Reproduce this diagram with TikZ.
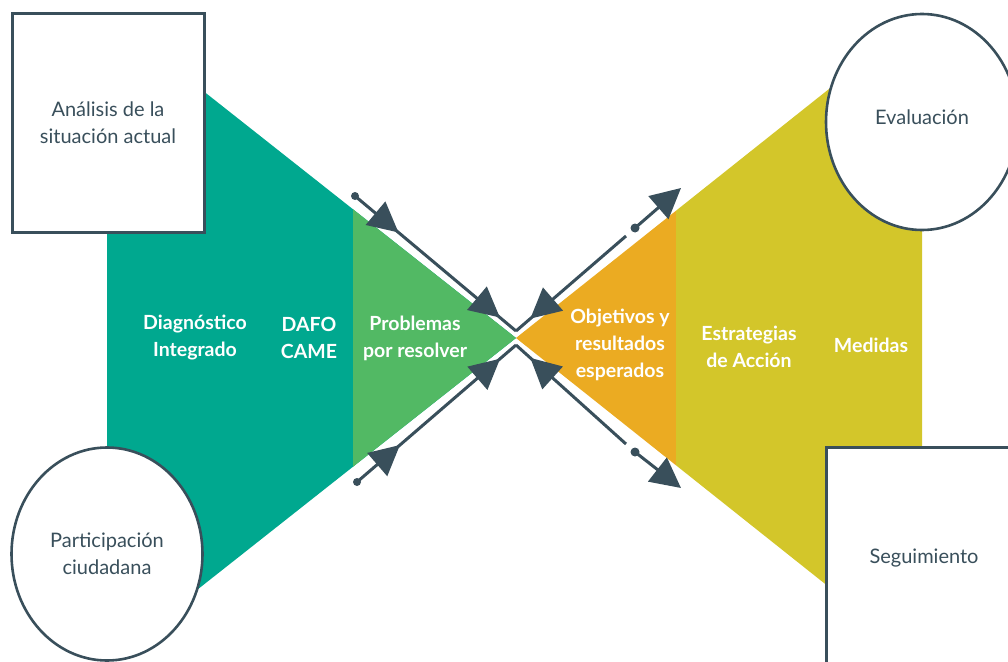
\documentclass[tikz,border=0pt]{standalone}
\usepackage{fontspec}
\setmainfont{Lato}
\usetikzlibrary{arrows.meta,decorations.markings,shapes.geometric,calc}

\definecolor{slate}{HTML}{394F5B}
\definecolor{diagteal}{HTML}{00A88F}
\definecolor{probgreen}{HTML}{52B964}
\definecolor{objorange}{HTML}{EBAB22}
\definecolor{stratyellow}{HTML}{D3C62A}

\tikzset{
  framebox/.style={draw=slate, line width=3pt, fill=white, rectangle,
    align=center, text=slate, font=\fontsize{20}{27}\selectfont, inner sep=0pt},
  ringnode/.style={draw=slate, line width=2.6pt, fill=white, ellipse,
    align=center, text=slate, font=\fontsize{20}{27}\selectfont, inner sep=0pt},
  phase/.style={align=center, text=white, font=\bfseries\fontsize{19.5}{27}\selectfont},
  halo/.style={draw=white, line width=9pt},
  flow/.style={draw=slate, line width=3pt},
}
\def\headtip{Triangle[length=30pt,width=30pt]}

\begin{document}
\begin{tikzpicture}[x=1pt,y=-1pt]
\useasboundingbox (0,0) rectangle (1008,661);
\clip (0,0) rectangle (1008,661);

% --- funnel shapes ---
\coordinate (lt) at (107,15);
\coordinate (lb) at (107,661);
\coordinate (mid) at (516,338);
\coordinate (rt) at (922,15);
\coordinate (rb) at (922,661);
\fill[diagteal] (lt) -- (mid) -- (lb) -- cycle;
\fill[probgreen] (353,209.3) -- (mid) -- (353,466.7) -- cycle;
\fill[objorange] (mid) -- (676,210.7) -- (676,465.3) -- cycle;
\fill[stratyellow] (676,210.7) -- (rt) -- (rb) -- (676,465.3) -- cycle;

% --- phase labels ---
\node[phase] (diag) at (195,338) {Diagnóstico\\Integrado};
\node[phase] (dafo) at (309,338) {DAFO\\CAME};
\node[phase] (prob) at (415,338) {Problemas\\por resolver};
\node[phase] (obj) at (620,345) {Objetivos y\\resultados\\esperados};
\node[phase] (estr) at (749,347) {Estrategias\\de Acción};
\node[phase] (med) at (871,345) {Medidas};

% --- flow connectors around the centre ---
\coordinate (apexT) at (516,331);
\coordinate (apexB) at (516,345);
\coordinate (tlS) at (355,196);
\coordinate (blS) at (357,482);
\coordinate (trG) at (626,236);
\coordinate (trD) at (635,228);
\coordinate (trE) at (681,188);
\coordinate (brG) at (626,444);
\coordinate (brD) at (635,452);
\coordinate (brE) at (681,488);

% white halos under the lines
\draw[halo] (tlS) -- (apexT) -- (trG);
\draw[halo] (trD) -- ($(trD)!0.6!(trE)$);
\draw[halo] (blS) -- (apexB) -- (brG);
\draw[halo] (brD) -- ($(brD)!0.6!(brE)$);

% upper pair
\draw[flow, postaction={decorate}, decoration={markings,
    mark=at position 0.27 with {\arrow[slate]{\headtip}},
    mark=at position 0.90 with {\arrow[slate]{\headtip}}}]
  (tlS) -- (apexT);
\draw[flow, postaction={decorate}, decoration={markings,
    mark=at position 0.13 with {\arrowreversed[slate]{\headtip}}}]
  (apexT) -- (trG);
\draw[flow, -{\headtip}] (trD) -- (trE);

% lower pair
\draw[flow, postaction={decorate}, decoration={markings,
    mark=at position 0.27 with {\arrow[slate]{\headtip}},
    mark=at position 0.90 with {\arrow[slate]{\headtip}}}]
  (blS) -- (apexB);
\draw[flow, postaction={decorate}, decoration={markings,
    mark=at position 0.13 with {\arrowreversed[slate]{\headtip}}}]
  (apexB) -- (brG);
\draw[flow, -{\headtip}] (brD) -- (brE);

% end dots
\fill[slate] (tlS) circle (4);
\fill[slate] (blS) circle (4);
\fill[slate] (trD) circle (4.5);
\fill[slate] (brD) circle (4.5);

% --- boxes and rings ---
\node[framebox, minimum width=192, minimum height=218] (analisis) at (108,123)
  {Análisis de la\\situación actual};
\node[ringnode, minimum width=191, minimum height=213] (participacion) at (107,554)
  {Participación\\ciudadana};
\node[ringnode, minimum width=192, minimum height=216] (evaluacion) at (922,122)
  {\raisebox{10pt}{Evaluación}};
\node[framebox, minimum width=196, minimum height=224] (seguimiento) at (924,559)
  {\raisebox{6pt}{Seguimiento}};
\end{tikzpicture}
\end{document}
